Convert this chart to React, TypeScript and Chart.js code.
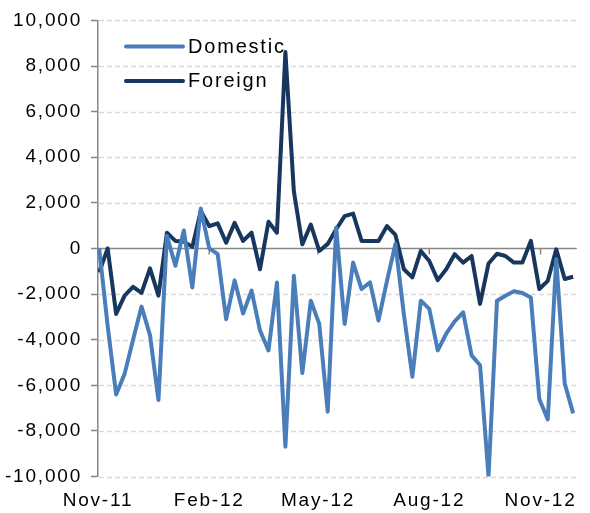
import React, { useEffect, useRef } from "react";
import { Chart, registerables } from "chart.js";

Chart.register(...registerables);

// Weekly observation dates
const weekDates = [
  "2011-11-02", "2011-11-09", "2011-11-16", "2011-11-23", "2011-11-30",
  "2011-12-07", "2011-12-14", "2011-12-21", "2011-12-28",
  "2012-01-04", "2012-01-11", "2012-01-18", "2012-01-25",
  "2012-02-01", "2012-02-08", "2012-02-15", "2012-02-22", "2012-02-29",
  "2012-03-07", "2012-03-14", "2012-03-21", "2012-03-28",
  "2012-04-04", "2012-04-11", "2012-04-18", "2012-04-25",
  "2012-05-02", "2012-05-09", "2012-05-16", "2012-05-23", "2012-05-30",
  "2012-06-06", "2012-06-13", "2012-06-20", "2012-06-27",
  "2012-07-04", "2012-07-11", "2012-07-18", "2012-07-25",
  "2012-08-01", "2012-08-08", "2012-08-15", "2012-08-22", "2012-08-29",
  "2012-09-05", "2012-09-12", "2012-09-19", "2012-09-26",
  "2012-10-03", "2012-10-10", "2012-10-17", "2012-10-24", "2012-10-31",
  "2012-11-07", "2012-11-14", "2012-11-21", "2012-11-28",
];

const domestic = [
  0, -3400, -6400, -5500, -4000, -2550, -3800, -6650, 550,
  -760, 790, -1710, 1750, 0, -250, -3100, -1400, -2850,
  -1850, -3600, -4470, -1490, -8690, -1200, -5460, -2290,
  -3310, -7160, 910, -3310, -620, -1780, -1490, -3160, -1420,
  200, -2900, -5630, -2290, -2650, -4470, -3740, -3200, -2800,
  -4690, -5120, -10000, -2290, -2070, -1880, -1950, -2150, -6600,
  -7500, -470, -5920, -7230,
];

const foreign = [
  -1050, 0, -2870, -2070, -1680, -1950, -870, -2070, 690,
  330, 300, 70, 1640, 980, 1100, 250, 1120, 330,
  690, -910, 1170, 690, 8610, 2500, 180, 1050,
  -110, 200, 840, 1420, 1530, 330, 330, 330, 980,
  590, -910, -1270, -110, -550, -1390, -910, -250, -620,
  -330, -2430, -660, -230, -330, -620, -620, 330, -1780,
  -1420, -40, -1340, -1240,
];

const seriesNames = ["Domestic", "Foreign"];
const seriesColors = ["#4a7ebb", "#17375e"];

const axisStart = "2011-11-01";
const axisEnd = "2012-12-01";
const tickDates = ["2011-11-01", "2012-02-01", "2012-05-01", "2012-08-01", "2012-11-01"];
const tickLabels = ["Nov-11", "Feb-12", "May-12", "Aug-12", "Nov-12"];
const yMin = -10000;
const yMax = 10000;
const yStep = 2000;

const FONT = '"Liberation Sans", Arial, sans-serif';
const SPACING = "1.8px";

const dayOf = (s: string) => (Date.parse(s) - Date.parse(axisStart)) / 86400000;

const spacingPlugin = {
  id: "spacing",
  beforeLayout(chart: any) {
    chart.ctx.letterSpacing = SPACING;
  },
  beforeDraw(chart: any) {
    chart.ctx.letterSpacing = SPACING;
  },
};

const gridPlugin = {
  id: "dashGridAndZero",
  beforeDatasetsDraw(chart: any) {
    const { ctx, chartArea, scales } = chart;
    ctx.save();
    // dashed horizontal grid lines
    ctx.strokeStyle = "#d9d9d9";
    ctx.lineWidth = 1.5;
    ctx.setLineDash([5, 3]);
    scales.y.ticks.forEach((t: any) => {
      if (t.value === 0) return;
      const y = Math.round(scales.y.getPixelForValue(t.value)) + 0.5;
      ctx.beginPath();
      ctx.moveTo(chartArea.left + 1, y);
      ctx.lineTo(chartArea.right, y);
      ctx.stroke();
    });
    // solid zero line with date ticks
    const y0 = scales.y.getPixelForValue(0);
    ctx.setLineDash([]);
    ctx.strokeStyle = "#868686";
    ctx.lineWidth = 1.5;
    ctx.beginPath();
    ctx.moveTo(chartArea.left, y0);
    ctx.lineTo(chartArea.right, y0);
    for (const d of tickDates) {
      const x = scales.x.getPixelForValue(dayOf(d));
      ctx.moveTo(x, y0);
      ctx.lineTo(x, y0 + 6);
    }
    ctx.stroke();
    ctx.restore();
  },
};

const legendPlugin = {
  id: "insideLegend",
  afterDatasetsDraw(chart: any) {
    const { ctx, chartArea } = chart;
    ctx.save();
    ctx.letterSpacing = SPACING;
    chart.data.datasets.forEach((ds: any, i: number) => {
      const y = chartArea.top + 26 + i * 34.5;
      const x0 = chartArea.left + 28;
      ctx.strokeStyle = ds.borderColor;
      ctx.lineWidth = 4;
      ctx.lineCap = "round";
      ctx.beginPath();
      ctx.moveTo(x0, y);
      ctx.lineTo(x0 + 57, y);
      ctx.stroke();
      ctx.fillStyle = "#000";
      ctx.font = `20px ${FONT}`;
      ctx.textAlign = "left";
      ctx.textBaseline = "middle";
      ctx.fillText(ds.label, x0 + 62, y + 1);
    });
    ctx.restore();
  },
};

export default function App() {
  const canvasRef = useRef<HTMLCanvasElement | null>(null);

  useEffect(() => {
    const canvas = canvasRef.current;
    if (!canvas) return;
    const series = [domestic, foreign];
    const chart = new Chart(canvas, {
      type: "line",
      data: {
        datasets: series.map((vals, si) => ({
          label: seriesNames[si],
          data: weekDates.map((d, i) => ({ x: dayOf(d), y: vals[i] })),
          borderColor: seriesColors[si],
          backgroundColor: seriesColors[si],
          borderWidth: 4,
          pointRadius: 0,
          tension: 0,
          fill: false,
          borderJoinStyle: "round" as const,
        })),
      },
      options: {
        animation: false,
        responsive: true,
        maintainAspectRatio: false,
        devicePixelRatio: 1,
        layout: { padding: { top: 18, right: 6, bottom: 0, left: 0 } },
        plugins: {
          legend: { display: false },
          tooltip: { enabled: false },
        },
        scales: {
          x: {
            type: "linear",
            min: 0,
            max: dayOf(axisEnd),
            afterBuildTicks: (scale: any) => {
              scale.ticks = tickDates.map((d) => ({ value: dayOf(d) }));
            },
            afterFit: (scale: any) => {
              scale.height = 36.5;
            },
            ticks: {
              autoSkip: false,
              maxRotation: 0,
              padding: 13,
              color: "#000",
              font: { size: 19, family: FONT },
              callback: (_v: any, i: number) => tickLabels[i],
            },
            grid: { display: false, drawTicks: false },
            border: { display: false },
          },
          y: {
            min: yMin,
            max: yMax,
            afterFit: (scale: any) => {
              scale.width = 98;
            },
            ticks: {
              stepSize: yStep,
              padding: 9,
              color: "#000",
              font: { size: 19, family: FONT },
              callback: (v: any) => Number(v).toLocaleString("en-US"),
            },
            grid: {
              drawOnChartArea: false,
              color: "#868686",
              tickColor: "#868686",
              tickLength: 7,
              tickWidth: 1.5,
            },
            border: { display: true, color: "#868686", width: 1.5 },
          },
        },
      },
      plugins: [spacingPlugin, gridPlugin, legendPlugin],
    });
    return () => chart.destroy();
  }, []);

  return (
    <div style={{ position: "absolute", left: 0, top: 0, width: 590, height: 513, background: "#fff" }}>
      <canvas ref={canvasRef} />
    </div>
  );
}
